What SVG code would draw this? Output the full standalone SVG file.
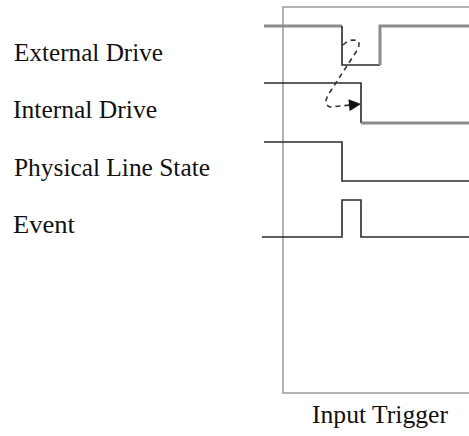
<svg xmlns="http://www.w3.org/2000/svg" width="469" height="436" viewBox="0 0 469 436">
<style>
.lbl{font-family:"Liberation Serif","Times New Roman",serif;font-size:25px;fill:#111}
.thin{fill:none;stroke:#2a2a2a;stroke-width:1.6}
.thick{fill:none;stroke:#8c8c8c;stroke-width:3}
.dash{fill:none;stroke:#333;stroke-width:1.6;stroke-dasharray:5,4}
</style>
<defs>
<marker id="ah" viewBox="0 0 10 10" refX="10" refY="5" markerWidth="15" markerHeight="12" markerUnits="userSpaceOnUse" orient="auto">
<path d="M0,0 L10,5 L0,10 z" fill="#111"/>
</marker>
</defs>
<rect width="469" height="436" fill="#fff"/>
<g id="frame">
<path d="M469,7 L283,7 L283,393 L469,393" fill="none" stroke="#9a9a9a" stroke-width="1.5"/>
</g>
<g id="external-drive">
<text class="lbl" x="14" y="61" textLength="149" lengthAdjust="spacingAndGlyphs">External Drive</text>
<path class="thick" d="M264,26 L342,26"/>
<path class="thin" d="M342,26 L342,65 L380,65"/>
<path class="thick" d="M380,65 L380,26 L469,26"/>
</g>
<g id="internal-drive">
<text class="lbl" x="13" y="118" textLength="144" lengthAdjust="spacingAndGlyphs">Internal Drive</text>
<path class="thin" d="M264,83 L361,83 L361,123"/>
<path class="thick" d="M361,123 L469,123"/>
</g>
<g id="physical-line-state">
<text class="lbl" x="14" y="176" textLength="196" lengthAdjust="spacingAndGlyphs">Physical Line State</text>
<path class="thin" d="M264,142 L342,142 L342,181 L469,181"/>
</g>
<g id="event">
<text class="lbl" x="13" y="233" textLength="62" lengthAdjust="spacingAndGlyphs">Event</text>
<path class="thin" d="M262,237 L342,237 L342,200 L361,200 L361,237 L469,237"/>
</g>
<g id="input-trigger">
<text class="lbl" x="312" y="423" textLength="136" lengthAdjust="spacingAndGlyphs">Input Trigger</text>
</g>
<g id="connectors">
<path class="dash" d="M343,45 Q350,38 358,41 Q361,44 356,52 L330,92 Q322,104 330,107 L361,104" marker-end="url(#ah)"/>
</g>
</svg>
